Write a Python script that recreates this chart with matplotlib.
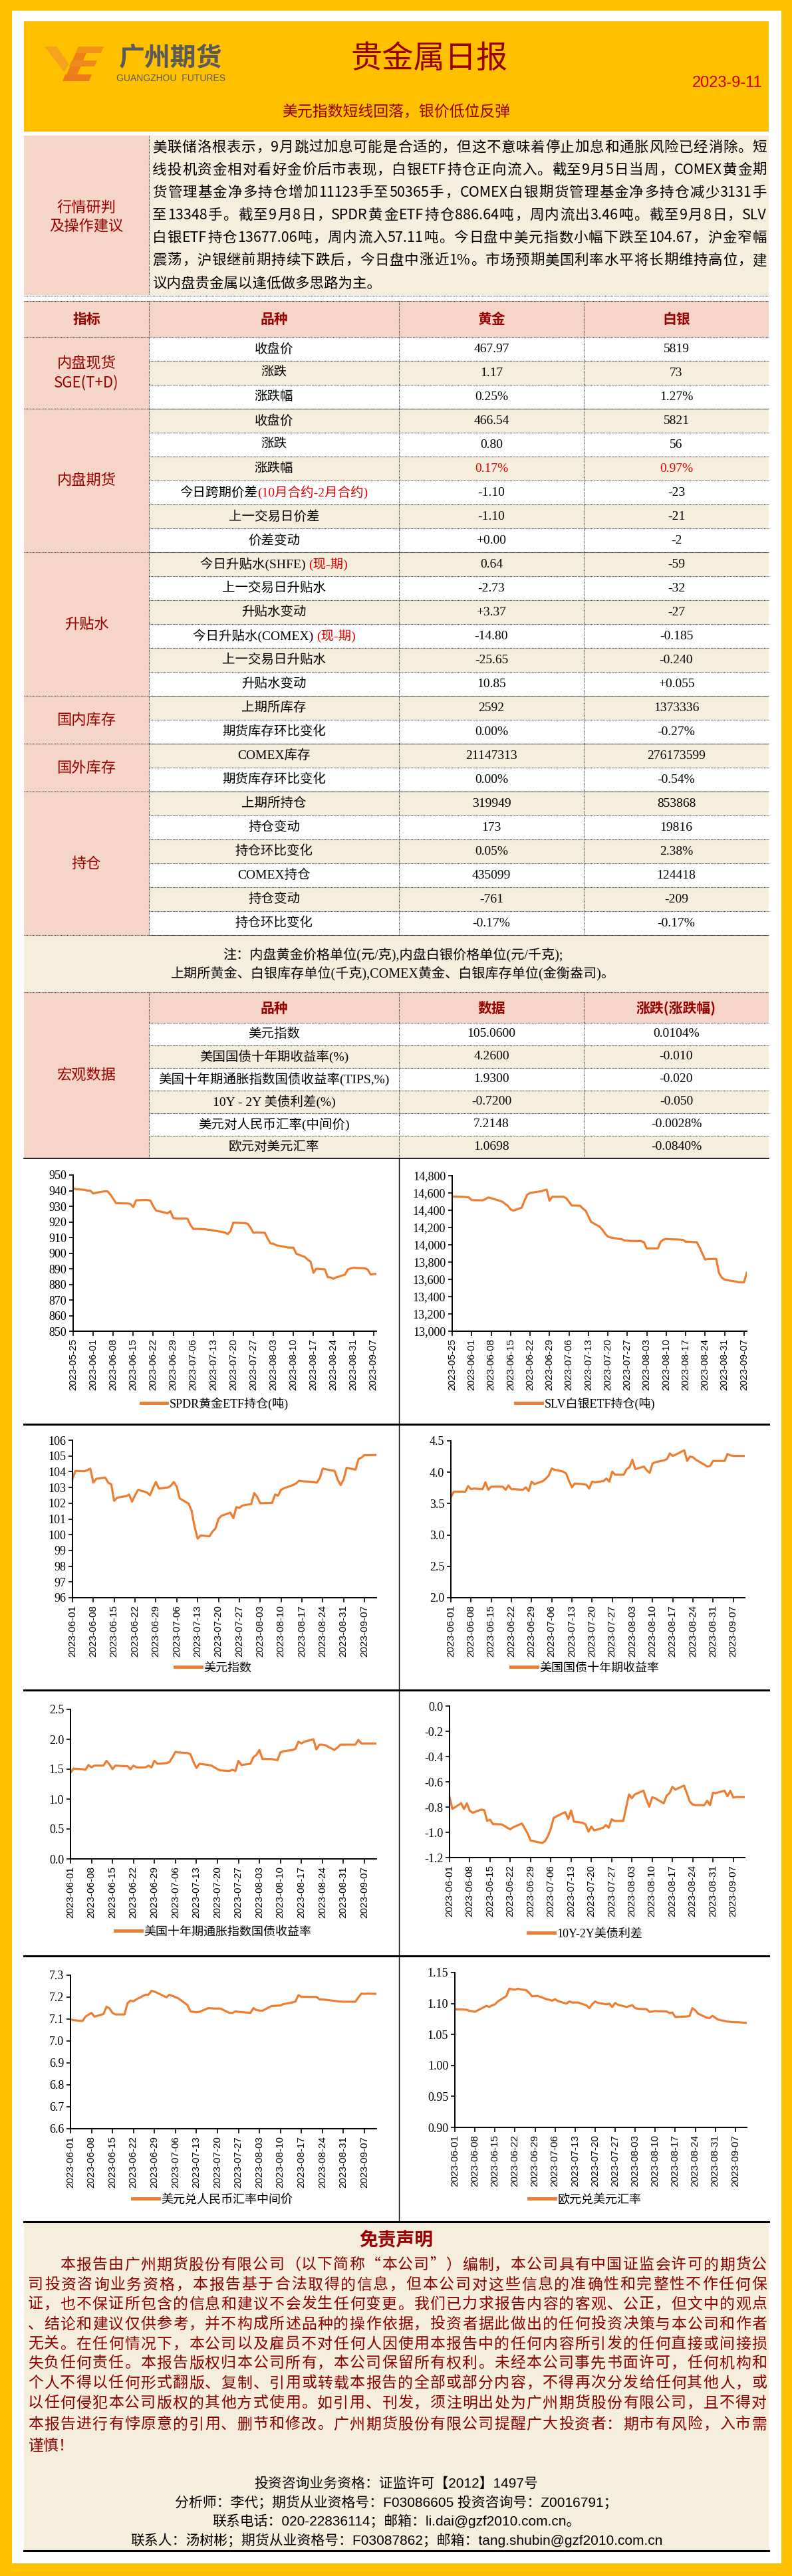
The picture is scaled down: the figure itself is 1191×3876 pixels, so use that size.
import re
import matplotlib
matplotlib.use('Agg')
import matplotlib.pyplot as plt
import matplotlib.dates as mdates
from matplotlib.patches import Rectangle, Polygon
from matplotlib.lines import Line2D
from matplotlib.ticker import MultipleLocator, FuncFormatter
from matplotlib.font_manager import FontProperties
import pandas as pd

plt.rcParams['axes.unicode_minus'] = False

# ---------------------------------------------------------------
# data
# ---------------------------------------------------------------
report_title = '贵金属日报'
report_date = '2023-9-11'
subtitle = '美元指数短线回落，银价低位反弹'

advice_lines = [
    '美联储洛根表示，9月跳过加息可能是合适的，但这不意味着停止加息和通胀风险已经消除。短',
    '线投机资金相对看好金价后市表现，白银ETF持仓正向流入。截至9月5日当周，COMEX黄金期',
    '货管理基金净多持仓增加11123手至50365手，COMEX白银期货管理基金净多持仓减少3131手',
    '至13348手。截至9月8日，SPDR黄金ETF持仓886.64吨，周内流出3.46吨。截至9月8日，SLV',
    '白银ETF持仓13677.06吨，周内流入57.11吨。今日盘中美元指数小幅下跌至104.67，沪金窄幅',
    '震荡，沪银继前期持续下跌后，今日盘中涨近1%。市场预期美国利率水平将长期维持高位，建',
    '议内盘贵金属以逢低做多思路为主。',
]

groups = ['内盘现货', '内盘期货', '升贴水', '国内库存', '国外库存', '持仓']
group_sizes = [3, 6, 6, 2, 2, 6]
items = ['收盘价', '涨跌', '涨跌幅', '收盘价', '涨跌', '涨跌幅', '今日跨期价差', '上一交易日价差', '价差变动',
         '今日升贴水(SHFE) ', '上一交易日升贴水', '升贴水变动', '今日升贴水(COMEX) ', '上一交易日升贴水', '升贴水变动',
         '上期所库存', '期货库存环比变化', 'COMEX库存', '期货库存环比变化',
         '上期所持仓', '持仓变动', '持仓环比变化', 'COMEX持仓', '持仓变动', '持仓环比变化']
item_notes = {6: '(10月合约-2月合约)', 9: '(现-期)', 12: '(现-期)'}
gold = ['467.97', '1.17', '0.25%', '466.54', '0.80', '0.17%', '-1.10', '-1.10', '+0.00',
        '0.64', '-2.73', '+3.37', '-14.80', '-25.65', '10.85', '2592', '0.00%', '21147313', '0.00%',
        '319949', '173', '0.05%', '435099', '-761', '-0.17%']
silver = ['5819', '73', '1.27%', '5821', '56', '0.97%', '-23', '-21', '-2',
          '-59', '-32', '-27', '-0.185', '-0.240', '+0.055', '1373336', '-0.27%', '276173599', '-0.54%',
          '853868', '19816', '2.38%', '124418', '-209', '-0.17%']
red_rows = [5]

notes = ['注：内盘黄金价格单位(元/克),内盘白银价格单位(元/千克);',
         '上期所黄金、白银库存单位(千克),COMEX黄金、白银库存单位(金衡盎司)。']

macro_items = ['美元指数', '美国国债十年期收益率(%)', '美国十年期通胀指数国债收益率(TIPS,%)',
               '10Y - 2Y 美债利差(%)', '美元对人民币汇率(中间价)', '欧元对美元汇率']
macro_vals = ['105.0600', '4.2600', '1.9300', '-0.7200', '7.2148', '1.0698']
macro_chg = ['0.0104%', '-0.010', '-0.020', '-0.050', '-0.0028%', '-0.0840%']

# business-day series, first chart pair from 2023-05-25, the rest from 2023-06-01
spdr = [941.5, 941.0, 940.5, 940.0, 940.0,
        938.2, 938.6, 939.6, 939.6, 937.5, 934.8, 932.0, 931.8, 931.8, 931.5, 929.5, 933.8, 934.0, 934.0,
        933.6, 930.0, 927.2, 926.0, 925.5, 926.8, 922.5, 922.2,
        922.2, 922.0, 918.0, 915.5, 915.5, 915.3, 915.0, 914.8, 914.5, 914.2, 913.2, 912.2, 914.0, 919.5,
        919.4, 919.2, 918.8, 916.3, 913.0, 913.2, 913.0,
        909.3, 906.2, 906.0, 905.0, 904.0, 903.6, 903.5, 903.5, 899.6, 897.5, 895.8, 894.5, 887.4, 890.0,
        889.6, 884.6, 884.4, 883.6, 884.5, 886.2, 889.5, 890.2, 890.7,
        890.5, 890.3, 889.4, 886.3, 886.6, 886.64]
slv = [14560, 14558, 14555, 14552, 14548,
       14518, 14516, 14515, 14530, 14548, 14540, 14530, 14500, 14475, 14452, 14410, 14395, 14430, 14510,
       14580, 14600, 14605, 14620, 14630, 14638, 14510, 14555,
       14556, 14556, 14540, 14500, 14455, 14453, 14420, 14395, 14330, 14265, 14210, 14176, 14130, 14095,
       14085, 14068, 14065, 14050, 14048, 14045, 14043,
       14042, 14030, 13958, 13958, 13958, 14035, 14060, 14068, 14065, 14062, 14060, 14058, 14035, 14035,
       14030, 13971, 13900, 13829, 13835, 13837, 13675, 13620, 13598,
       13590, 13575, 13568, 13565, 13566, 13677]
dxy = [103.55, 104.05, 104.03, 104.1, 104.2, 103.3, 103.55, 103.63, 103.3, 103.2, 102.15, 102.35, 102.45,
       102.55, 102.1, 102.5, 102.85, 102.68, 102.5, 102.95, 103.35, 102.93,
       103.0, 103.1, 103.35, 103.05, 102.3, 101.97, 101.5, 100.5, 99.75, 99.95, 99.9, 100.2, 100.4, 101.0,
       101.2, 101.4, 101.05, 101.75, 101.7, 101.85, 101.95,
       102.65, 102.4, 102.0, 102.0, 102.02, 102.55, 102.48, 102.85, 102.95, 103.15, 103.25, 103.42, 103.4,
       103.38, 103.35, 103.3, 103.6, 104.2, 104.15, 104.05, 103.5, 103.15, 103.5,
       104.25, 104.13, 104.8, 104.9, 105.05, 105.05, 105.06]
ust10 = [3.60, 3.69, 3.69, 3.69, 3.78, 3.73, 3.74, 3.73, 3.84, 3.72, 3.77, 3.77, 3.77, 3.72, 3.79, 3.73,
         3.73, 3.72, 3.76, 3.70, 3.85, 3.81,
         3.86, 3.90, 3.95, 4.06, 4.04, 4.01, 3.98, 3.86, 3.76, 3.82, 3.81, 3.80, 3.74, 3.85, 3.84, 3.86,
         3.90, 3.85, 4.01, 3.96, 3.96,
         4.05, 4.08, 4.20, 4.05, 4.09, 4.03, 3.99, 4.14, 4.16, 4.19, 4.21, 4.30, 4.26, 4.28, 4.35, 4.18,
         4.25, 4.24, 4.20, 4.12, 4.09, 4.10, 4.18,
         4.18, 4.18, 4.29, 4.27, 4.26, 4.26, 4.26]
tips = [1.44, 1.51, 1.50, 1.49, 1.57, 1.53, 1.56, 1.56, 1.64, 1.58, 1.50, 1.56, 1.55, 1.55, 1.50, 1.56,
        1.53, 1.53, 1.56, 1.53, 1.64, 1.59,
        1.60, 1.62, 1.70, 1.79, 1.78, 1.77, 1.75, 1.62, 1.52, 1.59, 1.57, 1.56, 1.53, 1.50, 1.48, 1.47,
        1.49, 1.47, 1.64, 1.57, 1.59,
        1.70, 1.74, 1.82, 1.67, 1.67, 1.66, 1.65, 1.78, 1.80, 1.82, 1.84, 1.96, 1.93, 1.96, 2.00, 1.83,
        1.91, 1.91, 1.90, 1.82, 1.86, 1.91, 1.91,
        1.91, 1.91, 1.99, 1.93, 1.93, 1.93, 1.93]
spread = [-0.72, -0.815, -0.77, -0.815, -0.77, -0.83, -0.845, -0.82, -0.825, -0.91, -0.90, -0.935, -0.937,
          -0.95, -0.965, -0.976, -0.96, -0.93, -0.97, -1.01, -1.065, -1.07,
          -1.085, -1.07, -1.03, -0.97, -0.885, -0.85, -0.84, -0.895, -0.827, -0.915, -0.925, -0.937, -0.995,
          -0.955, -0.985, -0.965, -0.943, -0.964, -0.897, -0.91, -0.91,
          -0.805, -0.70, -0.73, -0.70, -0.67, -0.74, -0.797, -0.722, -0.73, -0.77, -0.71, -0.69, -0.64,
          -0.662, -0.63, -0.69, -0.757, -0.78, -0.785, -0.785, -0.75, -0.785, -0.687,
          -0.69, -0.67, -0.715, -0.671, -0.724, -0.72, -0.72]
usdcny = [7.098, 7.095, 7.091, 7.111, 7.120, 7.128, 7.111, 7.123, 7.156, 7.149, 7.128, 7.121, 7.121, 7.172,
          7.184, 7.181, 7.190, 7.211, 7.211, 7.229, 7.225, 7.219,
          7.199, 7.211, 7.205, 7.200, 7.194, 7.164, 7.135, 7.133, 7.131, 7.133, 7.150, 7.149, 7.148, 7.148,
          7.148, 7.128, 7.128, 7.135, 7.133, 7.132, 7.128,
          7.150, 7.141, 7.139, 7.138, 7.159, 7.160, 7.161, 7.162, 7.168, 7.176, 7.180, 7.209, 7.201, 7.201,
          7.201, 7.201, 7.190, 7.189, 7.188, 7.183, 7.181, 7.180, 7.179,
          7.179, 7.179, 7.199, 7.216, 7.215, 7.216, 7.2148]
eurusd = [1.0908, 1.0905, 1.0900, 1.0885, 1.0875, 1.0865, 1.0890, 1.0962, 1.0944, 1.0970, 1.0987, 1.1033,
          1.1120, 1.1238, 1.1230, 1.1224, 1.1238, 1.1213, 1.1170, 1.1116, 1.1120, 1.1123,
          1.1070, 1.1060, 1.1045, 1.1070, 1.1040, 1.0998, 1.1033, 1.1016, 1.1016, 1.1016, 1.0970, 1.0926,
          1.0990, 1.1033, 1.1010, 1.0987, 1.0998, 1.0944, 1.1009, 1.0980, 1.0944,
          1.0960, 1.0973, 1.0926, 1.0915, 1.0908, 1.0865, 1.0870, 1.0879, 1.0875, 1.0872, 1.0844, 1.0854,
          1.0783, 1.0785, 1.0790, 1.0800, 1.0926, 1.0890, 1.0836, 1.0772, 1.0765, 1.0801, 1.0770,
          1.0740, 1.0711, 1.0705, 1.0700, 1.0698, 1.0698, 1.0686]

disclaimer = [
    '本报告由广州期货股份有限公司（以下简称“本公司”）编制，本公司具有中国证监会许可的期货公',
    '司投资咨询业务资格，本报告基于合法取得的信息，但本公司对这些信息的准确性和完整性不作任何保',
    '证，也不保证所包含的信息和建议不会发生任何变更。我们已力求报告内容的客观、公正，但文中的观点',
    '、结论和建议仅供参考，并不构成所述品种的操作依据，投资者据此做出的任何投资决策与本公司和作者',
    '无关。在任何情况下，本公司以及雇员不对任何人因使用本报告中的任何内容所引发的任何直接或间接损',
    '失负任何责任。本报告版权归本公司所有，本公司保留所有权利。未经本公司事先书面许可，任何机构和',
    '个人不得以任何形式翻版、复制、引用或转载本报告的全部或部分内容，不得再次分发给任何其他人，或',
    '以任何侵犯本公司版权的其他方式使用。如引用、刊发，须注明出处为广州期货股份有限公司，且不得对',
    '本报告进行有悖原意的引用、删节和修改。广州期货股份有限公司提醒广大投资者：期市有风险，入市需',
    '谨慎！',
]
contacts = ['投资咨询业务资格：证监许可【2012】1497号',
            '分析师：李代；期货从业资格号：F03086605 投资咨询号：Z0016791；',
            '联系电话：020-22836114；邮箱：li.dai@gzf2010.com.cn。',
            '联系人：汤树彬；期货从业资格号：F03087862；邮箱：tang.shubin@gzf2010.com.cn']

# ---------------------------------------------------------------
# page canvas in pixel coordinates
# ---------------------------------------------------------------
W, H = 1191, 3876
YELLOW = '#FFC000'
PINK = '#F4D5C7'
CREAM = '#F6EEDD'
DARKRED = '#990000'
ORANGE = '#ED7D31'
CJK = ['Noto Sans CJK SC', 'DejaVu Sans']
SERIF = ['Liberation Serif', 'Noto Sans CJK SC']
SANS = ['Liberation Sans', 'Noto Sans CJK SC']

fig = plt.figure(figsize=(W / 100, H / 100), dpi=100, facecolor=YELLOW)
bg = fig.add_axes([0, 0, 1, 1])
bg.set_xlim(0, W)
bg.set_ylim(H, 0)
bg.set_autoscale_on(False)
bg.axis('off')
R = fig.canvas.get_renderer()

L, C1, C2, C3, RT = 36, 224, 600, 878, 1156


def rect(x0, y0, x1, y1, color):
    bg.add_patch(Rectangle((x0, y0), x1 - x0, y1 - y0, facecolor=color, edgecolor='none', zorder=0))


def hline(y, x0=L, x1=RT, dotted=True, lw=0.8):
    bg.plot([x0, x1], [y, y], color='#333333' if dotted else 'black', lw=lw,
            ls=(0, (1, 1)) if dotted else '-', zorder=2)


def vline(x, y0, y1, dotted=True, lw=0.8):
    bg.plot([x, x], [y0, y1], color='#333333' if dotted else 'black', lw=lw,
            ls=(0, (1, 1)) if dotted else '-', zorder=2)


def txt(x, y, s, size, color='black', family=CJK, ha='center', weight='normal'):
    return bg.text(x, y, s, fontsize=size, color=color, family=family, ha=ha, va='center',
                   weight=weight, zorder=3)


def justify(y, s, x0, x1, size, color='black', family=CJK):
    toks = re.findall(r'[\x21-\x7e]+|.', s)
    ts = [txt(0, y, t, size, color, family, ha='left') for t in toks]
    ws = [t.get_window_extent(R).width for t in ts]
    gap = (x1 - x0 - sum(ws)) / max(len(ts) - 1, 1)
    x = x0
    for t, w in zip(ts, ws):
        t.set_x(x)
        x += w + gap


def pair(xc, y, a, b, size):
    t1 = txt(0, y, a, size, family=SERIF, ha='left')
    t2 = txt(0, y, b, size, color='#E00000', family=SERIF, ha='left')
    w1 = t1.get_window_extent(R).width
    w2 = t2.get_window_extent(R).width
    t1.set_x(xc - (w1 + w2) / 2)
    t2.set_x(xc - (w1 + w2) / 2 + w1)


rect(18, 16, 1175, 3857, 'white')

# header
rect(L, 32, RT, 198, YELLOW)
logo = [[(67, 70), (85, 70), (104, 97), (96, 108)],
        [(118, 70), (134, 70), (112, 122), (96, 122)],
        [(118, 70), (156, 70), (152, 80), (114, 80)],
        [(108, 91), (146, 91), (142, 100), (104, 100)],
        [(98, 112), (138, 112), (134, 122), (94, 122)]]
for pts, col in zip(logo, ['#F6A21E', '#EE7F1A', '#F39419', '#F08A1A', '#EC7A1B']):
    bg.add_patch(Polygon(pts, closed=True, facecolor=col, edgecolor='none', zorder=1))
txt(257, 88, '广州期货', 28, '#5A5A5A', weight='bold')
txt(257, 118, 'GUANGZHOU  FUTURES', 10, '#5A5A5A', family=SANS)
txt(646, 90, report_title, 34, DARKRED)
txt(1147, 125, report_date, 17, '#D00000', family=SANS, ha='right')
txt(596, 168, subtitle, 16.5, DARKRED)

# advice block
rect(L, 204, C1, 444, PINK)
rect(C1, 204, RT, 444, CREAM)
vline(C1, 204, 444)
txt(130, 313, '行情研判', 16, DARKRED)
txt(130, 341, '及操作建议', 16, DARKRED)
adv_y = [222, 256, 290, 324, 358, 392, 427]
for i, (s, y) in enumerate(zip(advice_lines, adv_y)):
    if i < len(advice_lines) - 1:
        justify(y, s, 229, 1153, 15.5)
    else:
        txt(229, y, s, 15.5, ha='left')
hline(445)

# main table
TOP, HDR, ROW = 453, 507, 36
rect(L, TOP, RT, HDR, PINK)
hline(TOP)
hline(HDR)
for x, s in zip([130, 412, 739, 1017], ['指标', '品种', '黄金', '白银']):
    txt(x, 480, s, 15, DARKRED, weight='bold')
n_rows = len(items)
y_end = HDR + n_rows * ROW
rect(L, HDR, C1, y_end, PINK)
for i in range(n_rows):
    y0 = HDR + i * ROW
    rect(C1, y0, RT, y0 + ROW, 'white' if i % 2 == 0 else CREAM)
    yc = y0 + ROW / 2
    if i in item_notes:
        pair(412, yc, items[i], item_notes[i], 14)
    else:
        txt(412, yc, items[i], 14, family=SERIF)
    col = '#E00000' if i in red_rows else 'black'
    txt(739, yc, gold[i], 14, col, family=SERIF)
    txt(1017, yc, silver[i], 14, col, family=SERIF)
    hline(y0 + ROW, C1)
start = HDR
for g, n in zip(groups, group_sizes):
    end = start + n * ROW
    yc = (start + end) / 2
    if g == '内盘现货':
        txt(130, yc - 14, g, 16, DARKRED)
        txt(130, yc + 15, 'SGE(T+D)', 16, DARKRED, family=CJK)
    else:
        txt(130, yc, g, 16, DARKRED)
    hline(end)
    start = end
for x in [C1, C2, C3]:
    vline(x, TOP, y_end)

# notes row
NOTE_END = 1493
rect(L, y_end, RT, NOTE_END, CREAM)
txt(591, 1437, notes[0], 14.5, family=SERIF)
txt(591, 1465, notes[1], 14.5, family=SERIF)
hline(NOTE_END)

# macro table
MH, MROW = 1539, 34
rect(L, NOTE_END, RT, MH, PINK)
for x, s in zip([412, 739, 1017], ['品种', '数据', '涨跌(涨跌幅)']):
    txt(x, 1517, s, 15, DARKRED, weight='bold')
hline(MH, C1)
m_end = MH + len(macro_items) * MROW
rect(L, MH, C1, m_end, PINK)
for i in range(len(macro_items)):
    y0 = MH + i * MROW
    rect(C1, y0, RT, y0 + MROW, 'white' if i % 2 == 0 else CREAM)
    yc = y0 + MROW / 2
    txt(412, yc, macro_items[i], 14, family=SERIF)
    txt(739, yc, macro_vals[i], 14, family=SERIF)
    txt(1017, yc, macro_chg[i], 14, family=SERIF)
    if i < len(macro_items) - 1:
        hline(y0 + MROW, C1)
txt(130, (NOTE_END + m_end) / 2, '宏观数据', 16, DARKRED)
for x in [C1, C2, C3]:
    vline(x, NOTE_END, m_end)

# chart grid frame
hline(m_end, dotted=False, lw=1.2)
for y in [2143, 2543, 2943, 3343]:
    hline(y, dotted=False, lw=2.2)
vline(C2, m_end, 3343, dotted=False, lw=1.0)

# ---------------------------------------------------------------
# charts
# ---------------------------------------------------------------
leg_font = FontProperties(family=SERIF, size=13)


def chart(box, start, vals, lo, hi, step, fmt, x0, x1, label, leg):
    l, t, r, b = box
    ax = fig.add_axes([l / W, 1 - b / H, (r - l) / W, (b - t) / H])
    dates = pd.bdate_range(start, periods=len(vals))
    line, = ax.plot(dates, vals, color=ORANGE, lw=2.3, solid_joinstyle='round')
    ax.set_ylim(lo, hi)
    ax.yaxis.set_major_locator(MultipleLocator(step))
    ax.yaxis.set_major_formatter(FuncFormatter(lambda v, p: fmt.format(0 if abs(v) < 1e-9 else v)))
    ax.set_xlim(pd.Timestamp(x0), pd.Timestamp(x1))
    ax.set_xticks(pd.date_range(x0, x1, freq='7D'))
    ax.xaxis.set_major_formatter(mdates.DateFormatter('%Y-%m-%d'))
    for s in ['top', 'right']:
        ax.spines[s].set_visible(False)
    for s in ['left', 'bottom']:
        ax.spines[s].set_linewidth(1.4)
    ax.tick_params(axis='x', rotation=90, labelsize=11, length=5, width=1.2, pad=3)
    ax.tick_params(axis='y', labelsize=13, length=4, width=1.2, pad=3)
    for lab in ax.get_xticklabels():
        lab.set_family('Liberation Sans')
    for lab in ax.get_yticklabels():
        lab.set_family('Liberation Serif')
    handle = Line2D([], [], color=ORANGE, lw=3.5)
    ax.legend([handle], [label], loc='center', bbox_to_anchor=(leg[0] / W, 1 - leg[1] / H),
              bbox_transform=fig.transFigure, frameon=False, prop=leg_font,
              handlelength=2.2, handletextpad=0.2)
    return ax


chart((110, 1768, 566, 2003), '2023-05-25', spdr, 850, 950, 10, '{:.0f}',
      '2023-05-25', '2023-09-08', 'SPDR黄金ETF持仓(吨)', (323, 2112))
chart((680, 1769, 1123, 2003), '2023-05-25', slv, 13000, 14800, 200, '{:,.0f}',
      '2023-05-25', '2023-09-08', 'SLV白银ETF持仓(吨)', (880, 2112))
chart((109, 2167, 566, 2404), '2023-06-01', dxy, 96, 106, 1, '{:.0f}',
      '2023-06-01', '2023-09-11', '美元指数', (321, 2510))
chart((678, 2168, 1120, 2404), '2023-06-01', ust10, 2.0, 4.5, 0.5, '{:.1f}',
      '2023-06-01', '2023-09-11', '美国国债十年期收益率', (880, 2510))
chart((106, 2572, 566, 2797), '2023-06-01', tips, 0.0, 2.5, 0.5, '{:.1f}',
      '2023-06-01', '2023-09-11', '美国十年期通胀指数国债收益率', (321, 2907))
chart((676, 2567, 1120, 2795), '2023-06-01', spread, -1.2, 0.0, 0.2, '{:.1f}',
      '2023-06-01', '2023-09-11', '10Y-2Y美债利差', (880, 2910))
chart((106, 2972, 566, 3203), '2023-06-01', usdcny, 6.6, 7.3, 0.1, '{:.1f}',
      '2023-06-01', '2023-09-11', '美元兑人民币汇率中间价', (320, 3310))
chart((684, 2968, 1123, 3201), '2023-06-01', eurusd, 0.90, 1.15, 0.05, '{:.2f}',
      '2023-06-01', '2023-09-11', '欧元兑美元汇率', (880, 3310))

# ---------------------------------------------------------------
# disclaimer
# ---------------------------------------------------------------
rect(L, 3344, RT, 3838, CREAM)
hline(3838, dotted=False, lw=2.2)
txt(596, 3371, '免责声明', 20, DARKRED, weight='bold')
dis_y = [3408, 3438, 3467, 3497, 3527, 3556, 3586, 3616, 3648, 3680]
for i, (s, y) in enumerate(zip(disclaimer, dis_y)):
    if i == len(disclaimer) - 1:
        txt(42, y, s, 16.5, '#8B0000', ha='left')
    else:
        justify(y, s, 90 if i == 0 else 42, 1153, 16.5, '#8B0000')
for s, y in zip(contacts, [3737, 3766, 3793, 3822]):
    txt(596, y, s, 15, family=SANS)

fig.savefig('out.png', dpi=100, facecolor=YELLOW)
